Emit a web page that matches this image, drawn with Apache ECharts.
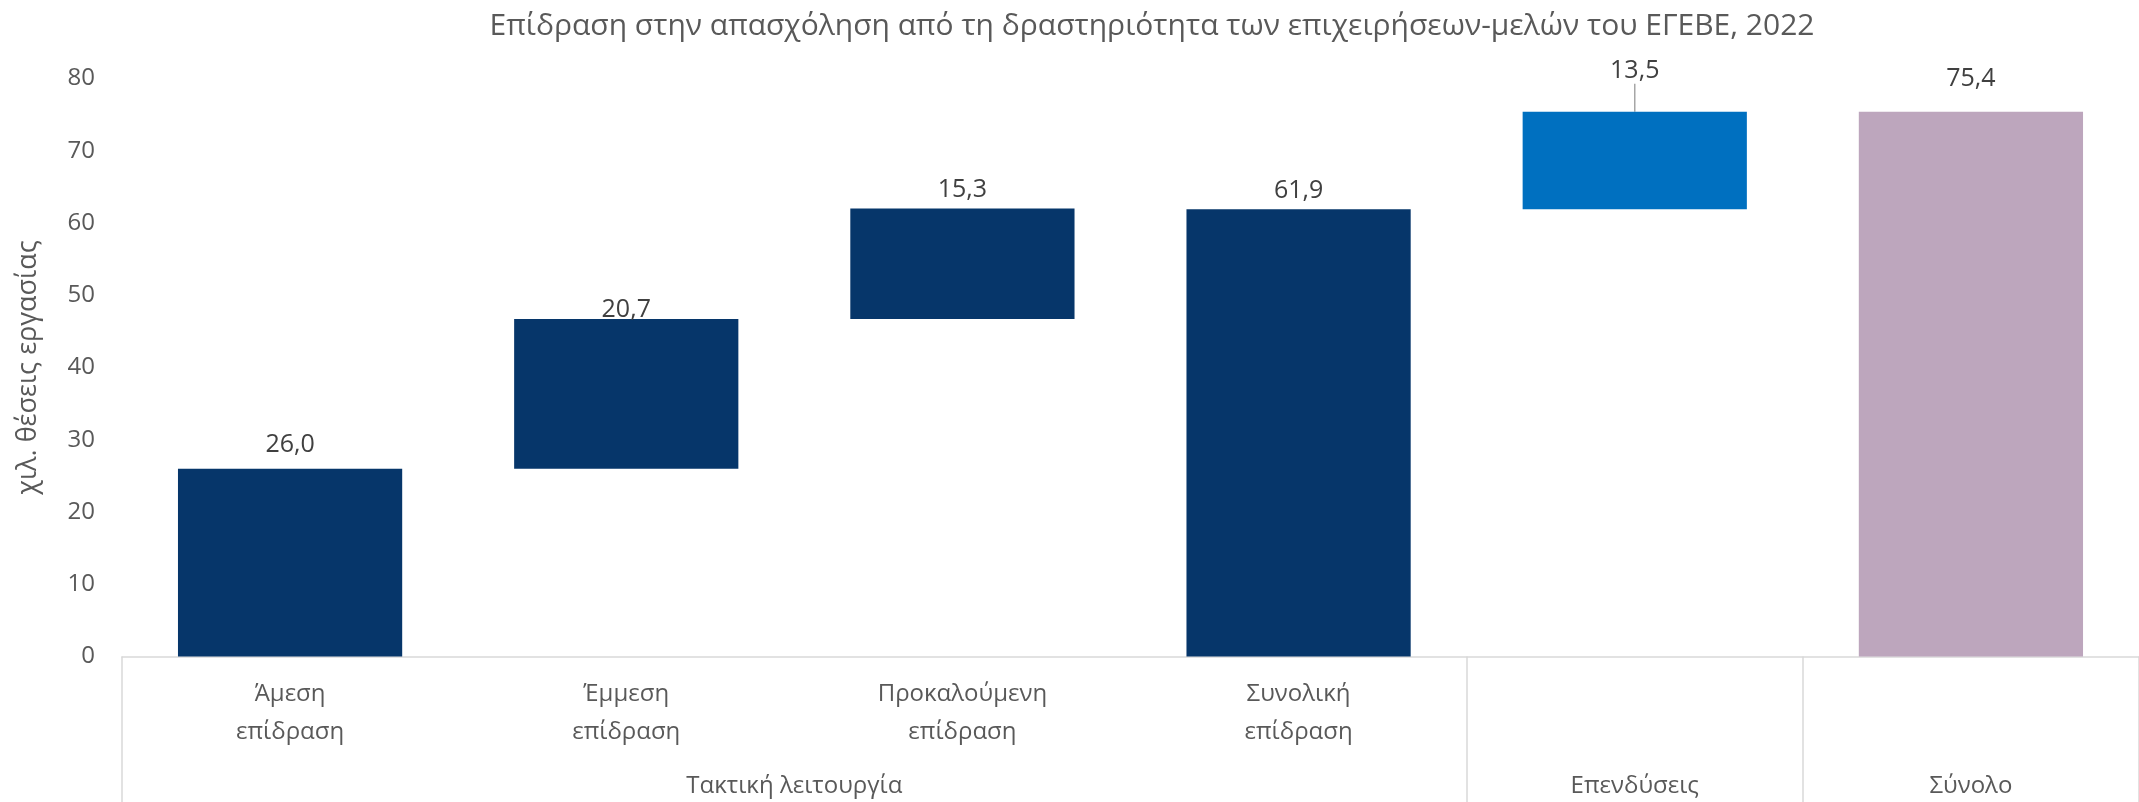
<!DOCTYPE html>
<html>
<head>
<meta charset="utf-8">
<script src="https://cdn.jsdelivr.net/npm/echarts@6/dist/echarts.min.js"></script>
<style>
html,body{margin:0;padding:0;background:#fff;}
#chart{width:2139px;height:802px;}
</style>
</head>
<body>
<div id="chart"></div>
<script>
// ---- data ----
const titleText = 'Επίδραση στην απασχόληση από τη δραστηριότητα των επιχειρήσεων-μελών του ΕΓΕΒΕ, 2022';
const yAxisTitle = 'χιλ. θέσεις εργασίας';
const categories = ['Άμεση\nεπίδραση', 'Έμμεση\nεπίδραση', 'Προκαλούμενη\nεπίδραση', 'Συνολική\nεπίδραση', '', ''];
const values = [26.0, 20.7, 15.3, 61.9, 13.5, 75.4];
// kind: 'inc' floats on the running total, 'total' starts from zero
const kinds = ['inc', 'inc', 'inc', 'total', 'inc', 'total'];
const groupLabels = ['Τακτική λειτουργία', 'Επενδύσεις', 'Σύνολο'];
const groupSpans = [4, 1, 1];
const yTicks = [0, 10, 20, 30, 40, 50, 60, 70, 80];

// ---- styles (not data) ----
const barColors = ['#06366A', '#06366A', '#06366A', '#06366A', '#0070C0', '#BDA6BD'];
const labelDistances = [11, -3, 6, 6, 6, 20];
const leaderShown = [false, false, false, false, true, false];
const FONT = 'Open Sans';

// waterfall bases from the running total
const bases = [];
let running = 0;
values.forEach((v, i) => {
  if (kinds[i] === 'total') { bases.push(0); running = v; }
  else { bases.push(+running.toFixed(2)); running += v; }
});

// group centers and boundaries
const groupCenters = [], groupBounds = [0];
let acc = 0;
groupSpans.forEach(s => { groupCenters.push(acc + s / 2); acc += s; groupBounds.push(acc); });

const fmt = v => v.toFixed(1).replace('.', ',');

const chart = echarts.init(document.getElementById('chart'));
chart.setOption({
  animation: false,
  textStyle: { fontFamily: FONT },
  title: {
    text: titleText,
    left: 1147,
    textAlign: 'center',
    top: 6,
    textStyle: { fontFamily: FONT, fontSize: 30, fontWeight: 'normal', color: '#595959' }
  },
  grid: { left: 122, top: 78.5, width: 2024, height: 578, containLabel: false },
  xAxis: [
    {
      type: 'category',
      data: categories,
      boundaryGap: true,
      axisLine: { show: true, lineStyle: { color: '#D9D9D9', width: 1.5 } },
      axisTick: { show: false },
      axisLabel: { interval: 0, fontSize: 24, lineHeight: 38, margin: 19, color: '#595959', fontFamily: FONT },
      splitLine: { show: false }
    },
    {
      type: 'value',
      min: 0,
      max: groupBounds[groupBounds.length - 1],
      position: 'bottom',
      axisLine: { show: false },
      axisTick: {
        show: true,
        customValues: groupBounds,
        length: 147,
        lineStyle: { color: '#D9D9D9', width: 1.5 }
      },
      axisLabel: {
        show: true,
        customValues: groupCenters,
        formatter: v => {
          const i = groupCenters.findIndex(c => Math.abs(c - v) < 1e-6);
          return i >= 0 ? groupLabels[i] : '';
        },
        fontSize: 24,
        lineHeight: 30,
        margin: 115,
        color: '#595959',
        fontFamily: FONT
      },
      splitLine: { show: false }
    }
  ],
  yAxis: {
    type: 'value',
    min: yTicks[0],
    max: yTicks[yTicks.length - 1],
    interval: yTicks[1] - yTicks[0],
    axisLine: { show: false },
    axisTick: { show: false },
    splitLine: { show: false },
    axisLabel: { fontSize: 24, color: '#595959', margin: 27, fontFamily: FONT },
    name: yAxisTitle,
    nameLocation: 'middle',
    nameRotate: 90,
    nameGap: 80,
    nameTextStyle: { fontSize: 27, color: '#595959', fontFamily: FONT }
  },
  series: [
    {
      type: 'bar',
      stack: 'wf',
      xAxisIndex: 0,
      barCategoryGap: '33.3%',
      itemStyle: { color: 'transparent' },
      emphasis: { disabled: true },
      silent: true,
      data: bases
    },
    {
      type: 'bar',
      stack: 'wf',
      xAxisIndex: 0,
      barCategoryGap: '33.3%',
      data: values.map((v, i) => ({
        value: v,
        itemStyle: { color: barColors[i] },
        label: { distance: labelDistances[i] },
        labelLine: { show: leaderShown[i] }
      })),
      label: {
        show: true,
        position: 'top',
        fontSize: 25,
        color: '#404040',
        fontFamily: FONT,
        formatter: p => fmt(p.value)
      },
      labelLayout: p => (p.dataIndex === 4 ? { dy: -22 } : {}),
      labelLine: { show: false, lineStyle: { color: '#A6A6A6', width: 1.5 } }
    }
  ]
});
</script>
</body>
</html>
